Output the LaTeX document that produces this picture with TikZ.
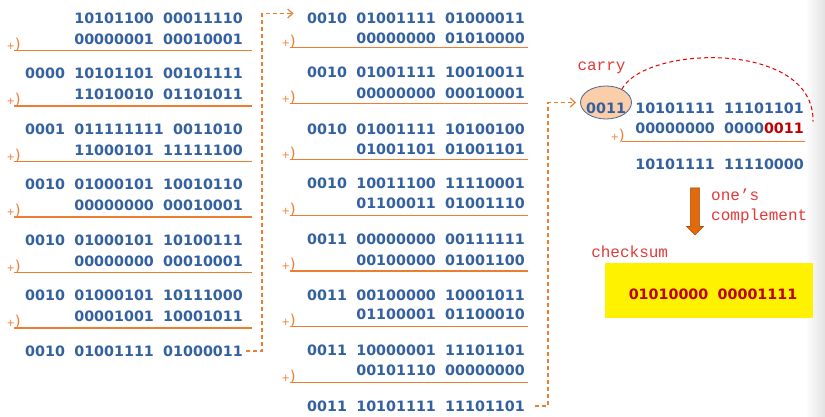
\documentclass[tikz,border=0pt]{standalone}
\usepackage{fontspec}
\usepackage{xcolor}
\usetikzlibrary{shapes.geometric, arrows.meta, positioning, calc}
\newfontfamily\bitfont{DejaVu Sans}
\newfontfamily\codefont{Liberation Mono}
\definecolor{bitblue}{RGB}{50,96,160}
\definecolor{sumorange}{RGB}{237,125,49}
\definecolor{labelred}{RGB}{228,56,56}
\definecolor{darkred}{RGB}{192,0,0}
\definecolor{carryfill}{RGB}{250,206,168}
\definecolor{carryline}{RGB}{72,100,148}
\definecolor{arrowfill}{RGB}{226,106,12}
\definecolor{arrowline}{RGB}{168,78,18}
\newcommand{\bytegap}{\hspace{9.3pt}}
\newcommand{\plustext}{+{\fontsize{15}{15}\selectfont)}}
\tikzset{
	bits/.style={inner sep=0pt, anchor=east, text=bitblue,
		font=\bitfont\bfseries\fontsize{14.3}{14.3}\selectfont},
	plusmark/.style={inner sep=0pt, anchor=south east, text=sumorange,
		font=\bitfont\fontsize{10}{10}\selectfont},
	sumline/.style={draw=sumorange, line width=1.2pt},
	dasharrow/.style={-{Straight Barb[length=5pt,width=9pt]}, draw=sumorange,
		line width=1.2pt, dash pattern=on 4pt off 3pt},
	carrycurve/.style={draw=red!90!black, line width=1pt, dash pattern=on 4pt off 3pt},
	redlabel/.style={inner sep=0pt, text=labelred, font=\codefont\fontsize{16}{19.3}\selectfont},
	carrybox/.style={ellipse, draw=carryline, fill=carryfill, line width=0.8pt,
		minimum width=51pt, minimum height=33pt, inner sep=0pt},
	downarrow/.style={draw=arrowline, fill=arrowfill, line width=0.6pt, line join=miter},
	chkbox/.style={rectangle, fill=yellow, minimum width=208pt, minimum height=55pt, inner sep=0pt},
}
\begin{document}
\begin{tikzpicture}[x=1pt, y=-1pt]
		\useasboundingbox (0,0) rectangle (825,417);
		\shade[left color=white, right color=black!11] (805,0) rectangle (825,417);
		% first column
		\node[bits](a1t) at (243,18){10101100\bytegap00011110};
		\node[bits](a1b) at (243,39){00000001\bytegap00010001};
		\node[plusmark](a1p) at (21,51.5){\plustext};\draw[sumline](14,50.5)--(252,50.5);
		\node[bits](a2t) at (243,73.5){0000\bytegap10101101\bytegap00101111};
		\node[bits](a2b) at (243,94.5){11010010\bytegap01101011};
		\node[plusmark](a2p) at (21,107){\plustext};\draw[sumline](14,106)--(252,106);
		\node[bits](a3t) at (243,129){0001\bytegap011111111\bytegap0011010};
		\node[bits](a3b) at (243,150){11000101\bytegap11111100};
		\node[plusmark](a3p) at (21,162.5){\plustext};\draw[sumline](14,161.5)--(252,161.5);
		\node[bits](a4t) at (243,184.5){0010\bytegap01000101\bytegap10010110};
		\node[bits](a4b) at (243,205.5){00000000\bytegap00010001};
		\node[plusmark](a4p) at (21,218){\plustext};\draw[sumline](14,217)--(252,217);
		\node[bits](a5t) at (243,240){0010\bytegap01000101\bytegap10100111};
		\node[bits](a5b) at (243,261){00000000\bytegap00010001};
		\node[plusmark](a5p) at (21,273.5){\plustext};\draw[sumline](14,272.5)--(252,272.5);
		\node[bits](a6t) at (243,295.5){0010\bytegap01000101\bytegap10111000};
		\node[bits](a6b) at (243,316.5){00001001\bytegap10001011};
		\node[plusmark](a6p) at (21,329){\plustext};\draw[sumline](14,328)--(252,328);
		\node[bits](a7) at (243,351){0010\bytegap01001111\bytegap01000011};
		% second column
		\node[bits](b1t) at (525,18){0010\bytegap01001111\bytegap01000011};
		\node[bits](b1b) at (525,38.5){00000000\bytegap01010000};
		\node[plusmark](b1p) at (296,48.5){\plustext};\draw[sumline](290,47.5)--(528,47.5);
		\node[bits](b2t) at (525,72.5){0010\bytegap01001111\bytegap10010011};
		\node[bits](b2b) at (525,93){00000000\bytegap00010001};
		\node[plusmark](b2p) at (296,104.3){\plustext};\draw[sumline](290,103.3)--(528,103.3);
		\node[bits](b3t) at (525,129){0010\bytegap01001111\bytegap10100100};
		\node[bits](b3b) at (525,149.3){01001101\bytegap01001101};
		\node[plusmark](b3p) at (296,160.3){\plustext};\draw[sumline](290,159.3)--(528,159.3);
		\node[bits](b4t) at (525,183.3){0010\bytegap10011100\bytegap11110001};
		\node[bits](b4b) at (525,203.7){01100011\bytegap01001110};
		\node[plusmark](b4p) at (296,216.3){\plustext};\draw[sumline](290,215.3)--(528,215.3);
		\node[bits](b5t) at (525,239.3){0011\bytegap00000000\bytegap00111111};
		\node[bits](b5b) at (525,260){00100000\bytegap01001100};
		\node[plusmark](b5p) at (296,272){\plustext};\draw[sumline](290,271)--(528,271);
		\node[bits](b6t) at (525,295){0011\bytegap00100000\bytegap10001011};
		\node[bits](b6b) at (525,314.3){01100001\bytegap01100010};
		\node[plusmark](b6p) at (296,327.7){\plustext};\draw[sumline](290,326.7)--(528,326.7);
		\node[bits](b7t) at (525,350.7){0011\bytegap10000001\bytegap11101101};
		\node[bits](b7b) at (525,370){00101110\bytegap00000000};
		\node[plusmark](b7p) at (296,383.7){\plustext};\draw[sumline](290,382.7)--(528,382.7);
		\node[bits](b8) at (525,406){0011\bytegap10101111\bytegap11101101};
		\draw[dasharrow]([xshift=3pt]a7.east)--++(16,0)|-([xshift=-13.5pt,yshift=4.5pt]b1t.west);
		% wrap-around of the carry
		\node[carrybox](cy) at (606,102.5){};
		\node[bits](c1) at (804,108){0011\bytegap10101111\bytegap11101101};
		\node[bits](c2) at (804,128.3){00000000\bytegap0000\textcolor{darkred}{0011}};
		\node[plusmark](c2p) at (625,142.7){\plustext};\draw[sumline](621.7,141.7)--(805,141.7);
		\node[bits](c3) at (804,164){10101111\bytegap11110000};
		\draw[dasharrow]([xshift=10pt]b8.east)--++(13,0)|-([xshift=-4pt]cy.west);
		\node[redlabel](cylabel) at (601.5,68){carry};
		\draw[carrycurve](cy.40) .. controls (645,45) and (815,40) .. ([xshift=9pt,yshift=1pt]c2.north east);
		% one's complement
		\coordinate (cmpl) at (695,188);
		\filldraw[downarrow](cmpl) ++(-4.6,0) -- ++(0,38.5) -- ++(-3.9,0) -- (695,235)
			-- (703.5,226.5) -- ++(-3.9,0) -- ++(0,-38.5) -- cycle;
		\node[redlabel,anchor=west,align=left](cmpllabel) at (711,206.3){one’s\\complement};
		\node[redlabel](chklabel) at (629.7,251.5){checksum};
		\node[chkbox](chk) at (709,290.8){};
		\node[bits,anchor=center,text=darkred](chkbits) at (713,294.3){01010000\bytegap00001111};
\end{tikzpicture}
\end{document}
